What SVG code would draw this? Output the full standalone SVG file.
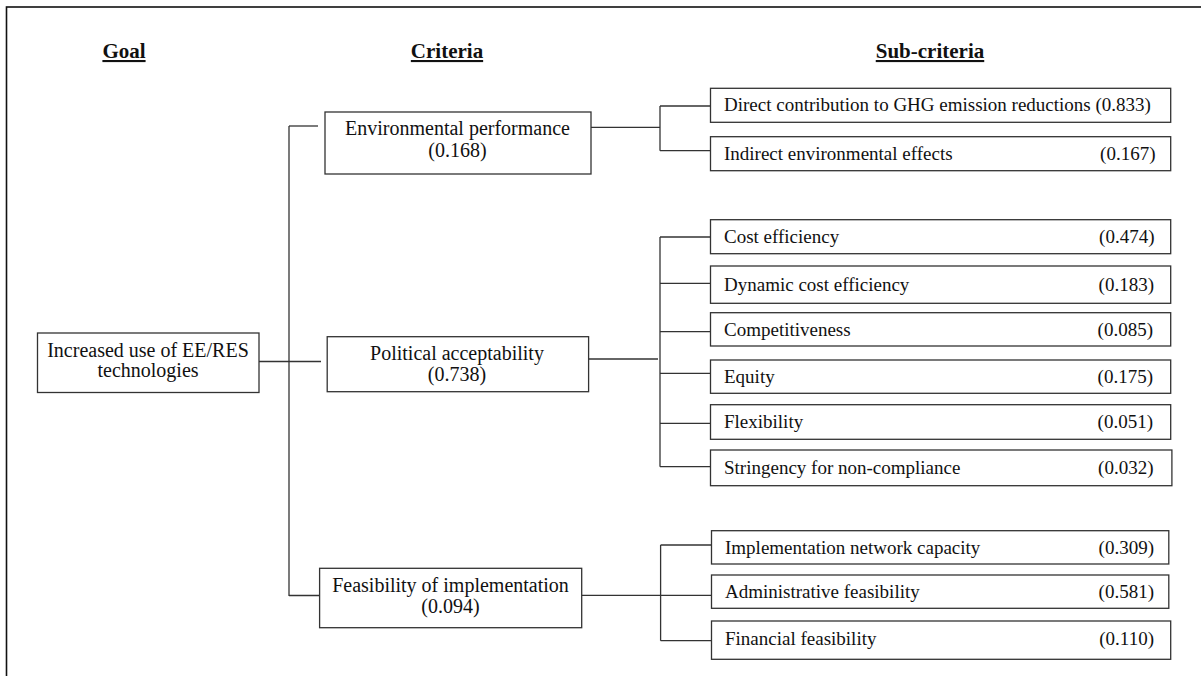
<svg xmlns="http://www.w3.org/2000/svg" width="1201" height="676" viewBox="0 0 1201 676">
<style>
  text { font-family: "Liberation Serif", "Times New Roman", serif; fill: #111; }
  .hdr { font-size: 21px; font-weight: bold; text-anchor: middle; text-decoration: underline; }
  .crit { font-size: 20px; text-anchor: middle; }
  .sub { font-size: 19px; }
  .val { font-size: 19px; text-anchor: end; }
  .box { fill: #fff; stroke: #333; stroke-width: 1.3; }
  .con line { stroke: #333; stroke-width: 1.3; }
</style>
<rect x="0" y="0" width="1201" height="676" fill="#fff"/>
<rect x="6.5" y="7" width="1200" height="680" fill="none" stroke="#111" stroke-width="1.6"/>

<g id="headers">
  <text class="hdr" x="124" y="58">Goal</text>
  <text class="hdr" x="447" y="58">Criteria</text>
  <text class="hdr" x="930" y="58">Sub-criteria</text>
</g>

<g id="connectors" class="con">
  <line x1="259" y1="361.5" x2="321" y2="361.5"/>
  <line x1="289" y1="126" x2="289" y2="596"/>
  <line x1="289" y1="126" x2="318" y2="126"/>
  <line x1="289" y1="595.5" x2="325" y2="595.5"/>
  <line x1="591" y1="127.3" x2="660" y2="127.3"/>
  <line x1="660" y1="106" x2="660" y2="150.7"/>
  <line x1="660" y1="106" x2="710.5" y2="106"/>
  <line x1="660" y1="150.7" x2="710.5" y2="150.7"/>
  <line x1="588.6" y1="359" x2="658" y2="359"/>
  <line x1="660" y1="237" x2="660" y2="466.7"/>
  <line x1="660" y1="237" x2="710.5" y2="237"/>
  <line x1="660" y1="283.3" x2="710.5" y2="283.3"/>
  <line x1="660" y1="331.7" x2="710.5" y2="331.7"/>
  <line x1="660" y1="373.3" x2="710.5" y2="373.3"/>
  <line x1="660" y1="423.3" x2="710.5" y2="423.3"/>
  <line x1="660" y1="466.7" x2="710.5" y2="466.7"/>
  <line x1="581.7" y1="595.3" x2="711.5" y2="595.3"/>
  <line x1="660.6" y1="545" x2="660.6" y2="640.7"/>
  <line x1="660.6" y1="545" x2="711.5" y2="545"/>
  <line x1="660.6" y1="640.7" x2="711.5" y2="640.7"/>
</g>

<g id="goal">
  <rect class="box" x="37.5" y="333" width="221.5" height="59.5"/>
  <text class="crit" x="148" y="356.7">Increased use of EE/RES</text>
  <text class="crit" x="148" y="376.5">technologies</text>
</g>

<g id="crit-env">
  <rect class="box" x="325" y="112" width="266" height="62"/>
  <text class="crit" x="457.5" y="135">Environmental performance</text>
  <text class="crit" x="457.5" y="156.7">(0.168)</text>
</g>
<g id="crit-pol">
  <rect class="box" x="327.2" y="336.7" width="261.4" height="55"/>
  <text class="crit" x="457" y="360">Political acceptability</text>
  <text class="crit" x="457" y="380.5">(0.738)</text>
</g>
<g id="crit-feas">
  <rect class="box" x="319.6" y="568.3" width="262.1" height="59.4"/>
  <text class="crit" x="450.5" y="591.7">Feasibility of implementation</text>
  <text class="crit" x="450.5" y="612.7">(0.094)</text>
</g>

<g id="sub-direct">
  <rect class="box" x="710.5" y="88.3" width="460.2" height="34"/>
  <text class="sub" x="724" y="111.3">Direct contribution to GHG emission reductions (0.833)</text>
</g>
<g id="sub-indirect">
  <rect class="box" x="710.5" y="136.7" width="460.2" height="34"/>
  <text class="sub" x="724" y="159.7">Indirect environmental effects</text>
  <text class="val" x="1155.5" y="159.7">(0.167)</text>
</g>
<g id="sub-cost">
  <rect class="box" x="710.5" y="219.7" width="460.2" height="34"/>
  <text class="sub" x="724" y="242.7">Cost efficiency</text>
  <text class="val" x="1154.5" y="242.7">(0.474)</text>
</g>
<g id="sub-dynamic">
  <rect class="box" x="710.5" y="266" width="460.2" height="37.3"/>
  <text class="sub" x="724" y="290.5">Dynamic cost efficiency</text>
  <text class="val" x="1154" y="290.5">(0.183)</text>
</g>
<g id="sub-compet">
  <rect class="box" x="710.5" y="312.7" width="460.2" height="33.3"/>
  <text class="sub" x="724" y="335.5">Competitiveness</text>
  <text class="val" x="1153" y="335.5">(0.085)</text>
</g>
<g id="sub-equity">
  <rect class="box" x="710.5" y="360" width="460.2" height="33.3"/>
  <text class="sub" x="724" y="382.7">Equity</text>
  <text class="val" x="1153" y="382.7">(0.175)</text>
</g>
<g id="sub-flex">
  <rect class="box" x="710.5" y="404.7" width="460.2" height="34.6"/>
  <text class="sub" x="724" y="428">Flexibility</text>
  <text class="val" x="1153" y="428">(0.051)</text>
</g>
<g id="sub-string">
  <rect class="box" x="710.5" y="450" width="461.4" height="35.7"/>
  <text class="sub" x="724" y="474">Stringency for non-compliance</text>
  <text class="val" x="1153.5" y="474">(0.032)</text>
</g>
<g id="sub-impl">
  <rect class="box" x="711.5" y="530.7" width="457.3" height="33.3"/>
  <text class="sub" x="725" y="553.5">Implementation network capacity</text>
  <text class="val" x="1154" y="553.5">(0.309)</text>
</g>
<g id="sub-admin">
  <rect class="box" x="711.5" y="575" width="457.3" height="33.3"/>
  <text class="sub" x="725" y="597.8">Administrative feasibility</text>
  <text class="val" x="1154" y="597.8">(0.581)</text>
</g>
<g id="sub-fin">
  <rect class="box" x="711.5" y="621" width="459.2" height="38.3"/>
  <text class="sub" x="725" y="644.5">Financial feasibility</text>
  <text class="val" x="1154" y="644.5">(0.110)</text>
</g>
</svg>
